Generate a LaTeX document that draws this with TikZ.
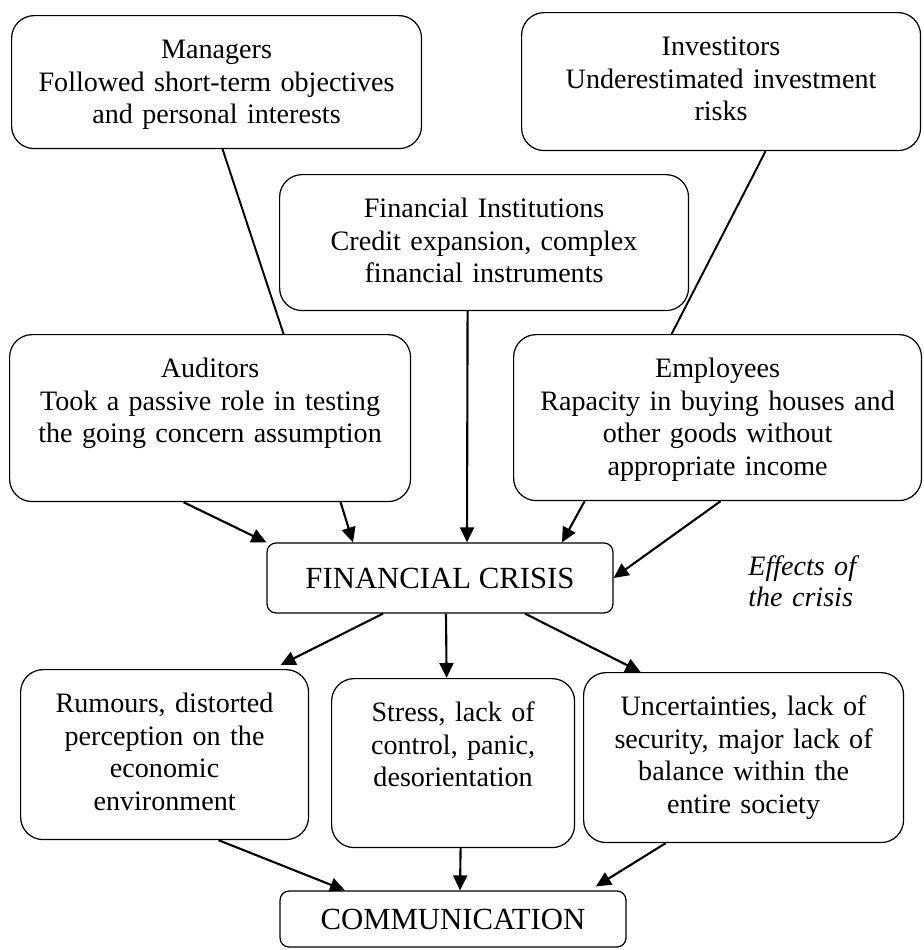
\documentclass[tikz,border=0pt]{standalone}
\usepackage{fontspec}
\setmainfont{Liberation Serif}
\usepackage{tikz}
\usetikzlibrary{positioning,calc,arrows.meta}

\begin{document}
\begin{tikzpicture}[x=0.02cm, y=-0.02cm,
        card/.style 2 args={rectangle, draw, line width=0.7pt, rounded corners=0.45cm, anchor=north west, inner sep=0pt, align=center, text width=#1, minimum width=#1, text height=0.86cm, text depth=#2, font=\fontsize{16}{18.5}\selectfont},
        banner/.style={rectangle, draw, line width=0.7pt, rounded corners=0.18cm, minimum width=6.92cm, font=\fontsize{17.5}{20}\selectfont},
        arr/.style={-{Triangle[length=0.3cm,width=0.28cm]}, line width=1.2pt},
        link/.style={line width=1.1pt}]
        \useasboundingbox (0,0) rectangle (923,950);

        % actors
        \node[card={8.2cm}{1.8cm}] (man) at (11,15) {Managers\\Followed short-term objectives\\and personal interests};
        \node[card={7.98cm}{1.9cm}] (inv) at (521,12) {Investitors\\Underestimated investment\\risks};
        \node[card={8.18cm}{1.86cm}] (fin) at (279,174) {Financial Institutions\\Credit expansion, complex\\financial instruments};
        \node[card={8.02cm}{2.48cm}] (aud) at (9,334) {Auditors\\Took a passive role in testing\\the going concern assumption};
        \node[card={8.16cm}{2.46cm}] (emp) at (513,334) {Employees\\Rapacity in buying houses and\\other goods without\\appropriate income};

        \node[banner, minimum height=1.4cm] (crisis) at (440,578) {FINANCIAL CRISIS};
        \node[anchor=base west, inner sep=0pt, text width=2.6cm, align=left, font=\fontsize{16}{18.2}\selectfont\itshape] (effects) at (748,575) {Effects of\\the crisis};

        % effects
        \node[card={5.76cm}{2.54cm}] (rum) at (20,669) {Rumours, distorted\\perception on the\\economic\\environment};
        \node[card={4.86cm}{2.52cm}] (str) at (331,678) {Stress, lack of\\control, panic,\\desorientation};
        \node[card={6.4cm}{2.54cm}] (unc) at (583,672) {Uncertainties, lack of\\security, major lack of\\balance within the\\entire society};

        \node[banner, minimum height=1.12cm] (com) at (453,919) {COMMUNICATION};

        \draw[link] ($(man.south)+(6,0)$) -- ($(aud.north)+(73.5,0)$);
        \draw[link] ($(inv.south)+(44.5,0)$) -- ($(emp.north)+(-46,0)$);

        \draw[arr] ($(fin.south)+(-16.5,0)$) -- ($(crisis.north)+(27,0)$);
        \draw[arr] ($(aud.south)+(-26.5,0)$) -- (crisis.north west);
        \draw[arr] ($(aud.south)+(130.5,0)$) -- ($(crisis.north)+(-87,0)$);
        \draw[arr] ($(emp.south)+(-133,0)$) -- ($(crisis.north)+(122,0)$);
        \draw[arr] ($(emp.south)+(3,0)$) -- (crisis.east);

        \draw[arr] ($(crisis.south)+(-57,0)$) -- ($(rum.north)+(116,-4)$);
        \draw[arr] ($(crisis.south)+(6,0)$) -- ($(str.north)+(-6.5,0)$);
        \draw[arr] ($(crisis.south)+(85,0)$) -- ($(unc.north)+(-103,0)$);

        \draw[arr] ($(rum.south)+(54,0)$) -- ($(com.north)+(-108,0)$);
        \draw[arr] ($(str.south)+(7.5,0)$) -- ($(com.north)+(7,0)$);
        \draw[arr] ($(unc.south)+(-78,0)$) -- ($(com.north)+(143,-4)$);
    \end{tikzpicture}
\end{document}
